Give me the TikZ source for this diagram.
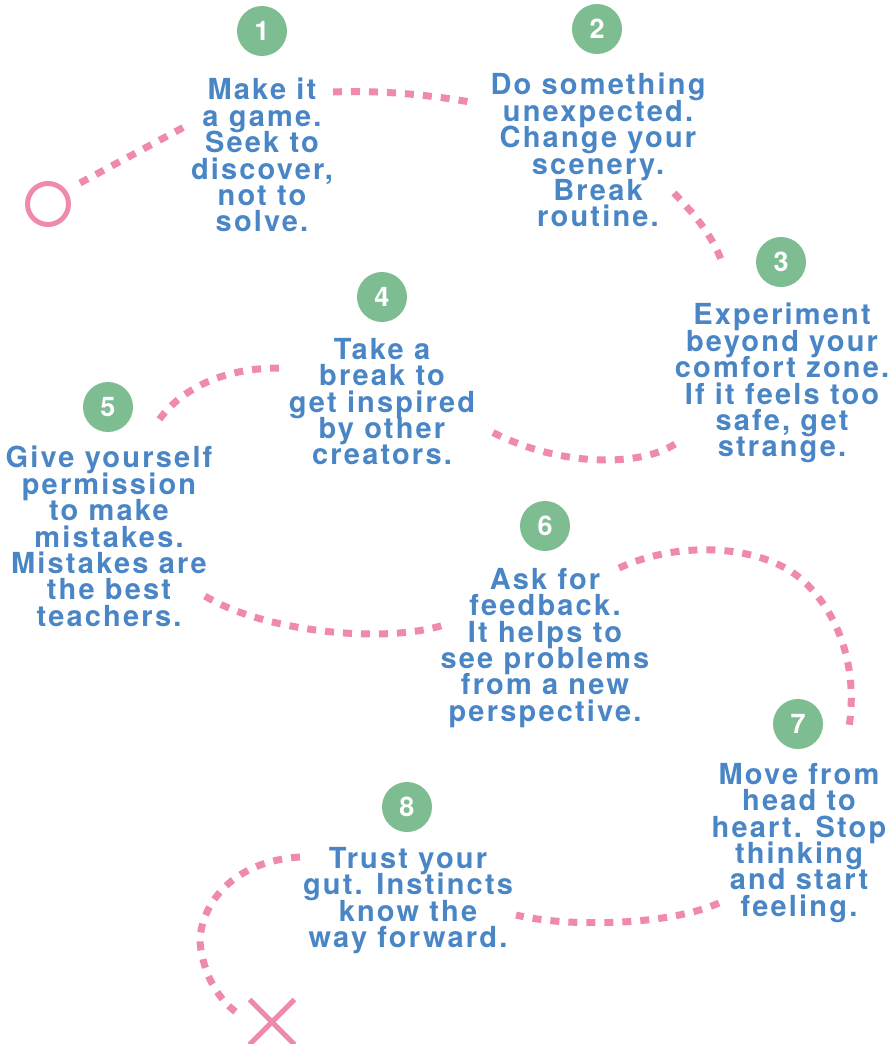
\documentclass[tikz,border=0pt]{standalone}
\usepackage{fontspec}
\usetikzlibrary{shapes.misc}
\newfontfamily\tipfamily[LetterSpace=7.5]{TeX Gyre Heros}
\newfontfamily\numfamily{TeX Gyre Heros}
\newcommand\tipfontsetup{\tipfamily\bfseries\fontsize{29}{26.4}\selectfont\setlength{\lineskiplimit}{-100pt}}
\definecolor{ink}{RGB}{74,134,197}
\definecolor{badgegreen}{RGB}{125,189,145}
\definecolor{trailpink}{RGB}{239,138,172}
\tikzset{
  badge/.style={circle, fill=badgegreen, minimum size=50pt, inner sep=0pt,
    text=white, font=\numfamily\bfseries\fontsize{27}{27}\selectfont},
  tip/.style={align=center, text=ink, inner sep=0pt, anchor=north,
    font=\tipfontsetup},
  trail/.style={draw=trailpink, line width=7pt, dash pattern=on 9pt off 9pt}
}
\begin{document}
\begin{tikzpicture}[x=1pt,y=-1pt]
\useasboundingbox (0,0) rectangle (891,1044);

% numbered badges
\node[badge] (b1) at (262,31) {1};
\node[badge] (b2) at (597,29) {2};
\node[badge] (b3) at (781,262) {3};
\node[badge] (b4) at (382,297) {4};
\node[badge] (b5) at (108,407) {5};
\node[badge] (b6) at (545,526) {6};
\node[badge] (b7) at (798,724) {7};
\node[badge] (b8) at (407,807) {8};

% tips
\node[tip] (t1) at (262,78) {Make it\\a game.\\Seek to\\discover,\\not to\\solve.};
\node[tip] (t2) at (598,73) {Do something\\unexpected.\\Change your\\scenery.\\Break\\routine.};
\node[tip] (t3) at (782,303) {Experiment\\beyond your\\comfort zone.\\If it feels too\\safe, get\\strange.};
\node[tip] (t4) at (382,338) {Take a\\break to\\get inspired\\by other\\creators.};
\node[tip] (t5) at (109,446) {Give yourself\\permission\\to make\\mistakes.\\Mistakes are\\the best\\teachers.};
\node[tip] (t6) at (545,568) {Ask for\\feedback.\\It helps to\\see problems\\from a new\\perspective.};
\node[tip] (t7) at (799,763) {Move from\\head to\\heart. Stop\\thinking\\and start\\feeling.};
\node[tip] (t8) at (408,847) {Trust your\\gut. Instincts\\know the\\way forward.};

% start ring and finish cross
\node[circle, draw=trailpink, line width=5pt, minimum size=41pt, inner sep=0pt] (start) at (48,204) {};
\node[cross out, draw=trailpink, line width=5pt, minimum size=40pt, inner sep=0pt] (finish) at (272,1022) {};

% trail end points
\coordinate (p0a) at (80,183);   \coordinate (p0b) at (186,126);
\coordinate (p1a) at (333,92);   \coordinate (p1b) at (470,102);
\coordinate (p2a) at (674,193);  \coordinate (p2b) at (722,262);
\coordinate (p3a) at (675,444);  \coordinate (p3b) at (492,432);
\coordinate (p4a) at (279,368);  \coordinate (p4b) at (157,423);
\coordinate (p5a) at (205,596);  \coordinate (p5b) at (444,625);
\coordinate (p6a) at (619,568);  \coordinate (p6b) at (849,727);
\coordinate (p7a) at (719,903);  \coordinate (p7b) at (516,915);
\coordinate (p8a) at (300,857);  \coordinate (p8b) at (240,1015);

% dashed trail
\draw[trail] (p0a) -- (p0b);
\draw[trail] (p1a) .. controls (380,90) and (430,95) .. (p1b);
\draw[trail] (p2a) .. controls (695,215) and (712,235) .. (p2b);
\draw[trail] (p3a) .. controls (640,467) and (560,467) .. (p3b);
\draw[trail] (p4a) .. controls (215,368) and (175,395) .. (p4b);
\draw[trail] (p5a) .. controls (260,630) and (380,645) .. (p5b);
\draw[trail] (p6a) .. controls (680,540) and (760,545) .. (800,578)
                   .. controls (840,612) and (858,670) .. (p6b);
\draw[trail] (p7a) .. controls (670,925) and (570,928) .. (p7b);
\draw[trail] (p8a) .. controls (220,862) and (195,920) .. (201,950)
                   .. controls (207,985) and (225,1005) .. (p8b);
\end{tikzpicture}
\end{document}
